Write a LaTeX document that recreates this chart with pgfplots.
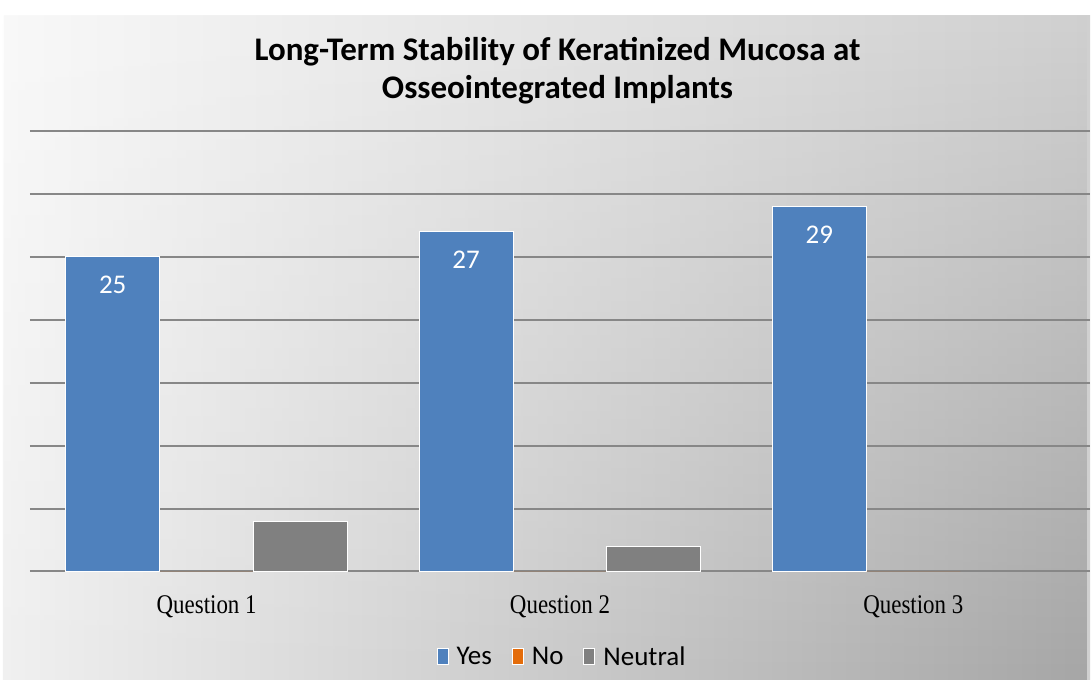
\documentclass[border=0pt]{standalone}
\usepackage{pgfplots}
\pgfplotsset{compat=1.18}
\usetikzlibrary{fadings}
\usepackage{fontspec}
\setmainfont{Carlito}
\newfontfamily\tickfont[FakeStretch=0.85]{Liberation Serif}
\definecolor{cyes}{RGB}{79,129,189}
\definecolor{cno}{RGB}{228,108,10}
\definecolor{cneu}{RGB}{128,128,128}
\definecolor{gridc}{RGB}{135,135,135}
\definecolor{bgtl}{RGB}{249,249,249}
\definecolor{bgtr}{RGB}{208,208,208}
\definecolor{bgbl}{RGB}{240,240,240}
\definecolor{bgbr}{RGB}{166,166,166}
\tikzfading[name=fadedown, top color=transparent!100, bottom color=transparent!0]
\begin{document}
\begin{tikzpicture}[x=1pt,y=1pt]
\fill[white] (0,0) rectangle (1091,680);
\shade[left color=bgtl, right color=bgtr] (4,0) rectangle (1091,664);
\shade[left color=bgbl, right color=bgbr, path fading=fadedown] (4,0) rectangle (1091,664);
\node[font=\fontsize{33}{35}\selectfont\bfseries, anchor=center] at (558,628) {Long-Term Stability of Keratinized Mucosa at};
\node[font=\fontsize{33}{35}\selectfont\bfseries, anchor=center] at (558,590) {Osseointegrated Implants};
\begin{axis}[
  at={(30pt,108pt)}, anchor=south west,
  scale only axis, width=1061pt, height=441pt,
  xmin=-0.5, xmax=2.5, ymin=0, ymax=35,
  ybar=0pt, bar width=94pt,
  /pgf/number format/assume math mode=true,
  xtick={0,1,2}, xticklabels={Question 1,Question 2,Question 3},
  xticklabel style={font=\tickfont\fontsize{27}{29}\selectfont, anchor=center, yshift=-35pt},
  ytick={0,5,...,35}, yticklabels={},
  major tick length=0pt,
  ymajorgrids, grid style={draw=gridc, line width=2pt},
  axis line style={draw=none},
  legend columns=3,
  legend style={at={(0.502,-0.193)}, anchor=center, draw=none, fill=none,
    font=\fontsize{27}{29}\selectfont,
    /tikz/every odd column/.append style={column sep=6pt},
    /tikz/every even column/.append style={column sep=18pt}},
  legend image code/.code={\draw[#1, draw=white, line width=1pt] (0pt,-8pt) rectangle (11pt,8pt);},
]
\addplot[fill=cyes, draw=white, line width=1pt,
  nodes near coords, every node near coord/.append style={anchor=center, yshift=-28pt, text=white, font=\fontsize{27}{29}\selectfont}]
  coordinates {(0,25) (1,27) (2,29)};
\addplot[fill=cno, draw=none] coordinates {(0,0) (1,0) (2,0)};
\addplot[fill=cneu, draw=white, line width=1pt] coordinates {(0,4) (1,2)};
\legend{Yes,No,Neutral}
\end{axis}
\end{tikzpicture}
\end{document}
